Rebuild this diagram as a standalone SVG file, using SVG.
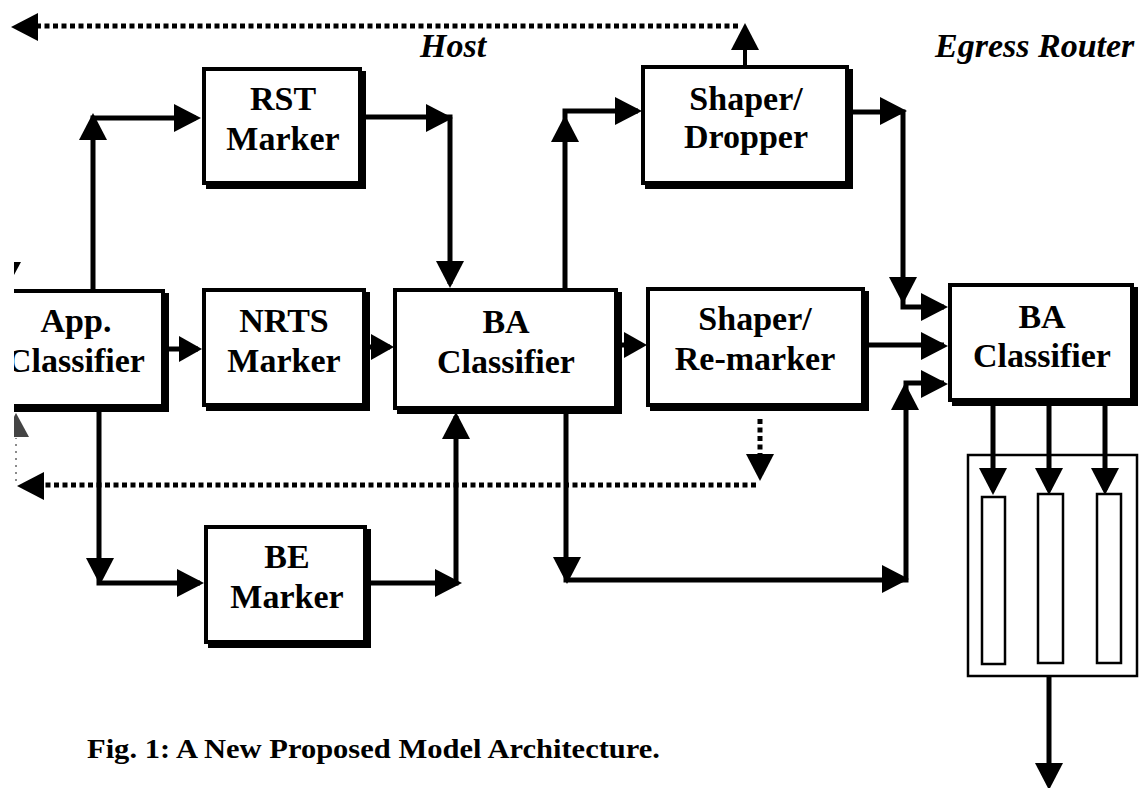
<svg xmlns="http://www.w3.org/2000/svg" width="1140" height="788" viewBox="0 0 1140 788">
<style>
.box{fill:#fff;stroke:#000;stroke-width:4}
.sh{fill:#000}
.lbl{font-family:"Liberation Serif","Times New Roman",serif;font-weight:bold;font-size:34px;text-anchor:middle;fill:#000}
.it{font-family:"Liberation Serif","Times New Roman",serif;font-weight:bold;font-style:italic;font-size:34px;fill:#000}
.cap{font-family:"Liberation Serif","Times New Roman",serif;font-weight:bold;font-size:28px;fill:#000}
.ln{fill:none;stroke:#000;stroke-width:5}
.dot{fill:none;stroke:#000;stroke-width:5;stroke-dasharray:5 3.5}
.faint{fill:none;stroke:#666;stroke-width:1.5;stroke-dasharray:2 5}
.thin{fill:#fff;stroke:#000;stroke-width:2.5}
</style>
<defs>
<path id="ah" d="M0,0 L-27,-14 L-27,14 Z"/>
<path id="ahs" d="M0,0 L-23,-13 L-23,13 Z"/>
<clipPath id="crop"><rect x="14" y="0" width="1126" height="788"/></clipPath>
</defs>
<rect width="1140" height="788" fill="#fff"/>

<g id="app-classifier" clip-path="url(#crop)">
<rect class="sh" x="-6" y="293" width="175" height="119"/>
<rect class="box" x="-8" y="291" width="171" height="115"/>
<text class="lbl" x="76" y="332">App.</text>
<text class="lbl" x="76" y="372">Classifier</text>
</g>

<g id="rst-marker">
<rect class="sh" x="206" y="71" width="160" height="118"/>
<rect class="box" x="204" y="69" width="156" height="114"/>
<text class="lbl" x="283" y="110">RST</text>
<text class="lbl" x="283" y="150">Marker</text>
</g>

<g id="nrts-marker">
<rect class="sh" x="206" y="292" width="164" height="119"/>
<rect class="box" x="204" y="290" width="160" height="115"/>
<text class="lbl" x="284" y="332">NRTS</text>
<text class="lbl" x="284" y="372">Marker</text>
</g>

<g id="be-marker">
<rect class="sh" x="208" y="529" width="163" height="119"/>
<rect class="box" x="206" y="527" width="159" height="115"/>
<text class="lbl" x="287" y="568">BE</text>
<text class="lbl" x="287" y="608">Marker</text>
</g>

<g id="ba-classifier-host">
<rect class="sh" x="397" y="292" width="225" height="122"/>
<rect class="box" x="395" y="290" width="221" height="118"/>
<text class="lbl" x="506" y="333">BA</text>
<text class="lbl" x="506" y="373">Classifier</text>
</g>

<g id="shaper-dropper">
<rect class="sh" x="645" y="69" width="208" height="120"/>
<rect class="box" x="643" y="67" width="204" height="116"/>
<text class="lbl" x="746" y="110">Shaper/</text>
<text class="lbl" x="746" y="148">Dropper</text>
</g>

<g id="shaper-remarker">
<rect class="sh" x="650" y="291" width="219" height="120"/>
<rect class="box" x="648" y="289" width="215" height="116"/>
<text class="lbl" x="755" y="330">Shaper/</text>
<text class="lbl" x="755" y="370">Re-marker</text>
</g>

<g id="ba-classifier-egress">
<rect class="sh" x="952" y="287" width="186" height="119"/>
<rect class="box" x="950" y="285" width="182" height="115"/>
<text class="lbl" x="1042" y="328">BA</text>
<text class="lbl" x="1042" y="367">Classifier</text>
</g>

<g id="queues">
<rect class="thin" x="968" y="455" width="169" height="221"/>
<rect class="thin" x="982" y="497" width="23" height="167"/>
<rect class="thin" x="1038" y="494" width="25" height="169"/>
<rect class="thin" x="1097" y="494" width="24" height="169"/>
</g>

<g id="connectors">
<path class="ln" d="M93,289 V118 H196"/>
<use href="#ah" transform="translate(93,113) rotate(-90)"/>
<use href="#ah" transform="translate(201,118)"/>

<path class="ln" d="M366,117 H450 V284"/>
<use href="#ah" transform="translate(453,118)"/>
<use href="#ah" transform="translate(450,288) rotate(90)"/>

<path class="ln" d="M169,349 H198"/>
<use href="#ahs" transform="translate(202,349)"/>

<path class="ln" d="M370,347 H390"/>
<use href="#ahs" transform="translate(394,347)"/>

<path class="ln" d="M622,345 H642"/>
<use href="#ahs" transform="translate(647,345)"/>

<path class="ln" d="M99,412 V583 H200"/>
<use href="#ah" transform="translate(100,585) rotate(90)"/>
<use href="#ah" transform="translate(204,583)"/>

<path class="ln" d="M371,583 H456 V416"/>
<use href="#ah" transform="translate(462,583)"/>
<use href="#ah" transform="translate(456,412) rotate(-90)"/>

<path class="ln" d="M565,288 V111 H638"/>
<use href="#ah" transform="translate(565,115) rotate(-90)"/>
<use href="#ah" transform="translate(642,111)"/>

<path class="ln" d="M853,112 H903 V307 H944"/>
<use href="#ah" transform="translate(907,111)"/>
<use href="#ah" transform="translate(903,304) rotate(90)"/>
<use href="#ah" transform="translate(948,307)"/>

<path class="ln" d="M869,345 H944"/>
<use href="#ah" transform="translate(948,346)"/>

<path class="ln" d="M566,414 V580 H906 V383 H944"/>
<use href="#ah" transform="translate(567,584) rotate(90)"/>
<use href="#ah" transform="translate(909,579)"/>
<use href="#ah" transform="translate(905,383) rotate(-90)"/>
<use href="#ah" transform="translate(948,384)"/>

<path class="ln" d="M993,406 V490 M1049,406 V490 M1105,406 V490"/>
<use href="#ah" transform="translate(993,495) rotate(90)"/>
<use href="#ah" transform="translate(1049,495) rotate(90)"/>
<use href="#ah" transform="translate(1105,495) rotate(90)"/>

<path class="ln" d="M1049,677 V780"/>
<use href="#ah" transform="translate(1049,790) rotate(90)"/>

<path class="ln" d="M745,66 V50" style="stroke-width:4"/>
<use href="#ah" transform="translate(745,23) rotate(-90)"/>
<path class="dot" d="M738,26 H32"/>
<use href="#ah" transform="translate(11,27) rotate(180)"/>

<path class="dot" d="M760,419 V456"/>
<use href="#ah" transform="translate(760,481) rotate(90)"/>
<path class="dot" d="M756,485 H44"/>
<use href="#ah" transform="translate(17,486) rotate(180)"/>

<g clip-path="url(#crop)">
<path class="faint" d="M16,481 V438"/>
<path d="M16,413 L29,437 L3,437 Z" fill="#444"/>
<polygon points="13,262 21,262 14,275" fill="#000"/>
</g>
</g>

<text id="host-label" class="it" x="420" y="57">Host</text>
<text id="egress-label" class="it" x="935" y="57">Egress Router</text>
<text id="caption" class="cap" x="87" y="758" textLength="573" lengthAdjust="spacingAndGlyphs">Fig. 1: A New Proposed Model Architecture.</text>
</svg>
